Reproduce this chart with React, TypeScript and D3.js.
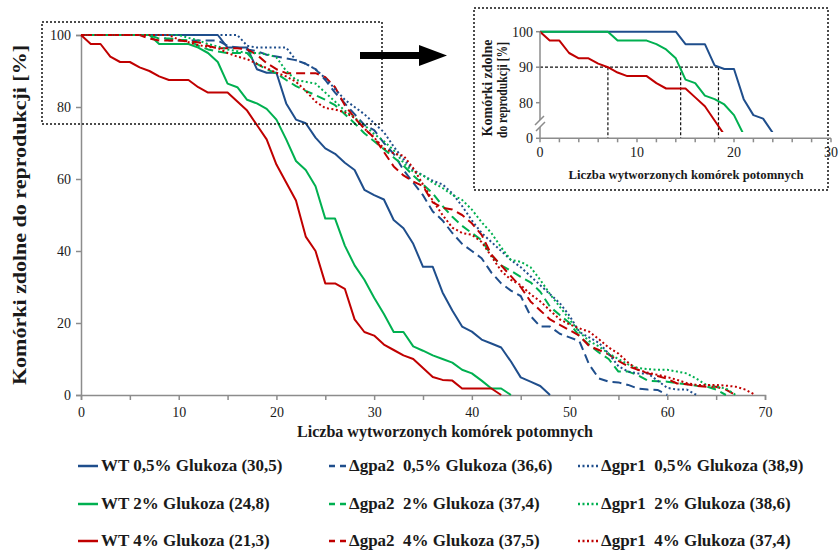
import React, { useRef, useEffect } from "react";
import * as d3 from "d3";

const W = 839;
const H = 550;
const MARGIN = { top: 35, right: 74, bottom: 155, left: 81 };

const BLUE = "#1f4e8c";
const GREEN = "#00b050";
const RED = "#c00000";
const AXIS = "#8c8c8c";
const TEXT = "#1a1a1a";
const FONT = "'Liberation Serif', 'Times New Roman', serif";

// survival [%] at 0, 1, 2, ... daughter cells
const wt05 = [100, 100, 100, 100, 100, 100, 100, 100, 100, 100, 100, 100, 100, 100, 100,
  96.5, 96.5, 96.5, 90.5, 89.5, 89.5, 81, 76.5, 75.5, 71.5, 68.5, 67, 64.5, 62.5, 57,
  55.5, 54.3, 48.6, 46.3, 42, 35.6, 35.6, 28.5, 23.5, 19, 17.6, 15.4, 14.3, 13.2, 9.3,
  4.9, 3.7, 2.5, 0];
const wt2 = [100, 100, 100, 100, 100, 100, 100, 100, 97.5, 97.5, 97.5, 97.5, 96.5, 95,
  92.5, 86.5, 85.5, 82, 81, 79.5, 76.5, 71, 65, 62.5, 58, 49, 49, 41.5, 36, 32, 27,
  22.5, 17.5, 17.5, 13.5, 12.3, 11, 10, 9, 7, 6, 4, 1.8, 1.8, 0];
const wt4 = [100, 97.5, 97.5, 94, 92.5, 92.5, 91, 90, 88.5, 87.5, 87.5, 87.5, 85.5, 84,
  84, 84, 81.5, 79, 75, 71, 64, 59, 54, 44, 40, 31, 31, 29.5, 21, 17.5, 16.5, 14, 12.5,
  11, 10, 7.5, 5, 4.2, 4, 1.8, 1.8, 1.8, 1.8, 0];
const gpa05 = [100, 100, 100, 100, 100, 100, 100, 100, 100, 98.5, 98.5, 98.5, 98.5, 98.5,
  98.5, 97, 96.5, 96, 95.5, 94.5, 94, 93.5, 93, 92, 90.5, 87.5, 84, 81, 78, 75, 73.6, 70,
  67, 62.5, 59, 55.5, 51, 48.5, 45, 42, 40, 38, 34, 31, 29, 27.5, 22, 19, 19, 17, 16, 15,
  8.5, 4.6, 3.7, 3.5, 2.8, 1.8, 1.5, 1.4, 0];
const gpa2 = [100, 100, 100, 100, 100, 100, 100, 100, 99, 99, 98.7, 98.5, 97, 96, 95.4,
  95, 95, 95, 92, 90.5, 89.3, 87.5, 85.8, 84.5, 83.3, 82, 80.5, 78, 75.5, 72.7, 70.5,
  68.3, 66, 63.7, 61, 58.5, 56, 52.5, 49.5, 47, 45, 43, 38.8, 36, 34.5, 32.8, 31.3, 28.7,
  24.5, 22.2, 20, 16.3, 14, 11.8, 10, 6.5, 6.5, 5.5, 4, 3.8, 3.7, 3.3, 3, 2.6, 2.4, 1.5, 0];
const gpa4 = [100, 100, 100, 100, 100, 100, 100, 99, 98.5, 98.5, 98.5, 98.2, 98, 97, 96.3,
  96.3, 96.3, 96, 94.5, 92.2, 90.5, 89.4, 89.4, 89.4, 89.4, 88.3, 85.5, 80.5, 77, 74,
  71.5, 67.5, 63.5, 61, 59.3, 58, 53.5, 52, 51.5, 50, 47.7, 44.5, 39, 36, 33, 30, 26,
  23.5, 21, 19.5, 18, 16.5, 13.6, 12.5, 11.3, 9.5, 8, 7, 6, 5.3, 4.5, 3.2, 3, 2.5, 2.3,
  2.3, 1.5, 0];
const gpr05 = [100, 100, 100, 100, 100, 100, 100, 100, 100, 100, 100, 100, 100, 100, 100,
  100, 100, 97, 96.5, 96.5, 96.5, 96.5, 93, 92, 90.5, 88, 85, 82, 80, 78, 75.5, 73, 69,
  65.5, 62.5, 61, 59.5, 58.5, 56, 52.5, 48.5, 45, 42.5, 40, 37.5, 35.5, 33, 30.5, 28,
  25.5, 22, 17.5, 16, 14.5, 11.5, 8, 6.5, 6, 6, 4, 2, 1.5, 1.5, 0];
const gpr2 = [100, 100, 100, 100, 100, 100, 100, 100, 100, 100, 100, 99.2, 98.5, 97.5,
  96.8, 96, 95.5, 95, 95, 94.7, 93.8, 90, 87.5, 87, 86.5, 84, 81.5, 79, 77, 75, 72.5,
  70.5, 68, 64.5, 62, 61, 59, 57.5, 55.6, 54.2, 51.5, 48, 45, 41, 37.5, 37, 35.5, 32, 28,
  24.5, 21, 17.5, 15, 13.5, 11.5, 10, 8.5, 7.5, 7.2, 7, 7, 6.5, 6, 4.5, 2.8, 2.3, 1.8, 0];
const gpr4 = [100, 100, 100, 100, 100, 100, 100, 100, 100, 100, 98.7, 98, 97.2, 96.7,
  96.4, 95, 94, 93.3, 92, 90.8, 89.5, 88.5, 87, 84.5, 81.5, 79.7, 79.3, 78.5, 77, 74,
  71.5, 68.5, 67.1, 66.5, 63, 58.5, 54, 50, 46.5, 45, 44.5, 42.5, 38.5, 34.5, 32, 30.5,
  28, 26, 23.5, 21, 19.6, 18.5, 17.6, 15.5, 13.2, 11.5, 9, 7, 6.2, 5.6, 5, 4.2, 3.3,
  2.8, 2.8, 2.8, 2.6, 2.3, 1.5, 0];

const legendLabels = [
  ["WT 0,5% Glukoza (30,5)", "WT 2% Glukoza (24,8)", "WT 4% Glukoza (21,3)"],
  ["\u0394gpa2  0,5% Glukoza (36,6)", "\u0394gpa2  2% Glukoza (37,4)", "\u0394gpa2  4% Glukoza (37,5)"],
  ["\u0394gpr1  0,5% Glukoza (38,9)", "\u0394gpr1  2% Glukoza (38,6)", "\u0394gpr1  4% Glukoza (37,4)"],
];
const seriesValues = [[wt05, wt2, wt4], [gpa05, gpa2, gpa4], [gpr05, gpr2, gpr4]];
const colors = [BLUE, GREEN, RED];
const dashes = [null, "9 5", "2 2.5"];

// x where WT curves reach 90% (inset guides)
const cross90 = [7.0, 14.5, 18.4];
const insetYTicks = [100, 90, 80];

const mainY = "Komórki zdolne do reprodukcji [%]";
const xTitle = "Liczba wytworzonych komórek potomnych";

const addMain = (svg) => {
  const x = d3.scaleLinear().domain([0, 70]).range([MARGIN.left, W - MARGIN.right]);
  const y = d3.scaleLinear().domain([0, 100]).range([H - MARGIN.bottom, MARGIN.top]);

  svg.append("g")
    .attr("transform", `translate(0,${y(0)})`)
    .call(d3.axisBottom(x).tickValues(d3.range(0, 71, 5)).tickSize(5).tickPadding(7)
      .tickFormat((d) => (d % 10 === 0 ? String(d) : "")))
    .call((g) => {
      g.select(".domain").attr("stroke", AXIS).attr("stroke-width", 1.5);
      g.selectAll(".tick line").attr("stroke", AXIS).attr("stroke-width", 1.5);
      g.selectAll("text").attr("fill", TEXT).attr("font-family", FONT).attr("font-size", 14);
    });

  svg.append("g")
    .attr("transform", `translate(${x(0)},0)`)
    .call(d3.axisLeft(y).tickValues(d3.range(0, 101, 20)).tickSize(5).tickPadding(5))
    .call((g) => {
      g.select(".domain").attr("stroke", AXIS).attr("stroke-width", 1.5);
      g.selectAll(".tick line").attr("stroke", AXIS).attr("stroke-width", 1.5);
      g.selectAll("text").attr("fill", TEXT).attr("font-family", FONT).attr("font-size", 14);
    });

  const ln = d3.line().x((d, i) => x(i)).y((d) => y(d));
  seriesValues.forEach((group, gi) => {
    group.forEach((vals, ci) => {
      svg.append("path")
        .datum(vals)
        .attr("fill", "none")
        .attr("stroke", colors[ci])
        .attr("stroke-width", 2)
        .attr("stroke-dasharray", dashes[gi])
        .attr("stroke-linejoin", "round")
        .attr("d", ln);
    });
  });

  svg.append("text")
    .attr("transform", `translate(26,${(y(0) + y(100)) / 2}) rotate(-90)`)
    .attr("text-anchor", "middle")
    .attr("font-family", FONT).attr("font-weight", "bold").attr("font-size", 18)
    .attr("fill", TEXT)
    .attr("textLength", 340).attr("lengthAdjust", "spacingAndGlyphs")
    .text(mainY);

  svg.append("text")
    .attr("x", 445).attr("y", 437)
    .attr("text-anchor", "middle")
    .attr("font-family", FONT).attr("font-weight", "bold").attr("font-size", 16)
    .attr("fill", TEXT)
    .attr("textLength", 296).attr("lengthAdjust", "spacingAndGlyphs")
    .text(xTitle);

  // zoom window + arrow
  svg.append("rect")
    .attr("x", 42).attr("y", 22).attr("width", 340).attr("height", 102)
    .attr("fill", "none").attr("stroke", "#111").attr("stroke-width", 1.5)
    .attr("stroke-dasharray", "2 2");
  svg.append("path")
    .attr("d", "M360,52 L419,52 L419,45 L447,55.5 L419,66 L419,59 L360,59 Z")
    .attr("fill", "#000");
};

const addInset = (svg) => {
  const x = d3.scaleLinear().domain([0, 30]).range([540, 831]);
  const y = d3.scaleLinear().domain([80, 100]).range([102.7, 31.7]);
  const y0 = 138.3;

  svg.append("rect")
    .attr("x", 474).attr("y", 8).attr("width", 354).attr("height", 182)
    .attr("fill", "#fff").attr("stroke", "#111").attr("stroke-width", 1.5)
    .attr("stroke-dasharray", "2 2");

  svg.append("defs").append("clipPath").attr("id", "insetClip")
    .append("rect").attr("x", 530).attr("y", 20).attr("width", 300).attr("height", 112);

  // guides at 90 %
  svg.append("line")
    .attr("x1", x(0)).attr("x2", x(d3.max(cross90)))
    .attr("y1", y(90)).attr("y2", y(90))
    .attr("stroke", "#111").attr("stroke-width", 1.2).attr("stroke-dasharray", "3 2");
  svg.selectAll("line.guide")
    .data(cross90)
    .enter()
    .append("line")
    .attr("class", "guide")
    .attr("x1", (d) => x(d)).attr("x2", (d) => x(d))
    .attr("y1", y(90)).attr("y2", y0)
    .attr("stroke", "#111").attr("stroke-width", 1.2).attr("stroke-dasharray", "3 2");

  const ln = d3.line().x((d, i) => x(i)).y((d) => y(d));
  seriesValues[0].forEach((vals, ci) => {
    svg.append("path")
      .datum(vals)
      .attr("clip-path", "url(#insetClip)")
      .attr("fill", "none")
      .attr("stroke", colors[ci])
      .attr("stroke-width", 2)
      .attr("stroke-linejoin", "round")
      .attr("d", ln);
  });

  // axes
  svg.append("line")
    .attr("x1", x(0)).attr("x2", x(30)).attr("y1", y0).attr("y2", y0)
    .attr("stroke", AXIS).attr("stroke-width", 1.5);
  svg.append("line")
    .attr("x1", x(0)).attr("x2", x(0)).attr("y1", y(100)).attr("y2", y0)
    .attr("stroke", AXIS).attr("stroke-width", 1.5);
  svg.selectAll("line.xt")
    .data(d3.range(0, 31, 2))
    .enter()
    .append("line")
    .attr("class", "xt")
    .attr("x1", (d) => x(d)).attr("x2", (d) => x(d))
    .attr("y1", y0).attr("y2", y0 + 4)
    .attr("stroke", AXIS).attr("stroke-width", 1.5);
  const yt = insetYTicks.map((d) => ({ label: String(d), py: y(d) })).concat([{ label: "0", py: y0 }]);
  svg.selectAll("line.yt")
    .data(yt)
    .enter()
    .append("line")
    .attr("class", "yt")
    .attr("x1", x(0) - 4).attr("x2", x(0))
    .attr("y1", (d) => d.py).attr("y2", (d) => d.py)
    .attr("stroke", AXIS).attr("stroke-width", 1.5);
  svg.selectAll("text.yt")
    .data(yt)
    .enter()
    .append("text")
    .attr("class", "yt")
    .attr("x", x(0) - 7).attr("y", (d) => d.py + 5)
    .attr("text-anchor", "end")
    .attr("font-family", FONT).attr("font-size", 14).attr("fill", TEXT)
    .text((d) => d.label);
  svg.selectAll("text.xt")
    .data([0, 10, 20, 30])
    .enter()
    .append("text")
    .attr("class", "xt")
    .attr("x", (d) => Math.min(x(d), 831)).attr("y", 157)
    .attr("text-anchor", "middle")
    .attr("font-family", FONT).attr("font-size", 14).attr("fill", TEXT)
    .text((d) => String(d));

  // axis break
  svg.append("rect").attr("x", x(0) - 2).attr("y", 120).attr("width", 4).attr("height", 7).attr("fill", "#fff");
  svg.append("path")
    .attr("d", `M${x(0) - 5},${125} L${x(0) + 4},${116} M${x(0) - 4},${131} L${x(0) + 5},${122}`)
    .attr("stroke", AXIS).attr("stroke-width", 1.5).attr("fill", "none");

  svg.append("text")
    .attr("transform", "translate(492,88) rotate(-90)")
    .attr("text-anchor", "middle")
    .attr("font-family", FONT).attr("font-weight", "bold").attr("font-size", 14).attr("fill", TEXT)
    .text("Komórki zdolne");
  svg.append("text")
    .attr("transform", "translate(507,90) rotate(-90)")
    .attr("text-anchor", "middle")
    .attr("font-family", FONT).attr("font-weight", "bold").attr("font-size", 14).attr("fill", TEXT)
    .attr("textLength", 96).attr("lengthAdjust", "spacingAndGlyphs")
    .text("do reprodukcji [%]");
  svg.append("text")
    .attr("x", 686).attr("y", 179)
    .attr("text-anchor", "middle")
    .attr("font-family", FONT).attr("font-weight", "bold").attr("font-size", 13).attr("fill", TEXT)
    .attr("textLength", 235).attr("lengthAdjust", "spacingAndGlyphs")
    .text(xTitle);
};

const addLegend = (svg) => {
  const colX = [78, 329, 578];
  const sampleW = [20, 17, 20];
  const rowY = [466, 504, 541];
  legendLabels.forEach((col, gi) => {
    col.forEach((label, ci) => {
      const g = svg.append("g").attr("transform", `translate(${colX[gi]},${rowY[ci]})`);
      g.append("line")
        .attr("x1", 0).attr("x2", sampleW[gi]).attr("y1", 0).attr("y2", 0)
        .attr("stroke", colors[ci]).attr("stroke-width", 2.5)
        .attr("stroke-dasharray", gi === 1 ? "6 5" : dashes[gi]);
      g.append("text")
        .attr("x", sampleW[gi] + 3).attr("y", 5)
        .attr("font-family", FONT).attr("font-weight", "bold").attr("font-size", 17)
        .attr("fill", TEXT)
        .style("white-space", "pre")
        .text(label);
    });
  });
};

export default function App() {
  const node = useRef(null);

  useEffect(() => {
    node.current.innerHTML = "";
    const svg = d3.select(node.current)
      .append("svg")
      .attr("width", W)
      .attr("height", H)
      .style("display", "block")
      .style("background", "#fff");

    addMain(svg);
    addInset(svg);
    addLegend(svg);
  }, []);

  return <div ref={node} style={{ position: "absolute", left: 0, top: 0 }} />;
}
